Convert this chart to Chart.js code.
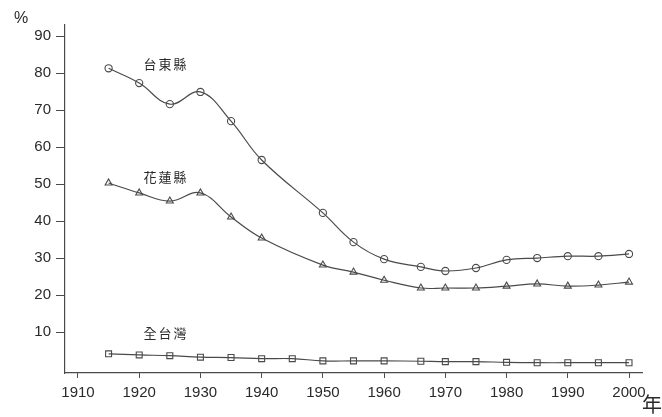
<!DOCTYPE html>
<html>
<head>
<meta charset="utf-8">
<script src="https://cdn.jsdelivr.net/npm/chart.js@4/dist/chart.umd.min.js"></script>
<style>
html,body{margin:0;padding:0;background:#fff;}
#wrap{position:relative;width:662px;height:417px;}
</style>
</head>
<body>
<div id="wrap"><canvas id="c" width="662" height="417"></canvas></div>
<script>
const taitungYears = [1915,1920,1925,1930,1935,1940,1950,1955,1960,1966,1970,1975,1980,1985,1990,1995,2000];
const taitungVals  = [81.3,77.3,71.6,74.9,67.0,56.5,42.2,34.3,29.7,27.6,26.5,27.3,29.5,30.0,30.5,30.5,31.1];
const hualienYears = [1915,1920,1925,1930,1935,1940,1950,1955,1960,1966,1970,1975,1980,1985,1990,1995,2000];
const hualienVals  = [50.3,47.6,45.4,47.6,41.1,35.4,28.1,26.2,24.0,21.9,21.9,21.9,22.4,23.0,22.4,22.7,23.5];
const taiwanYears  = [1915,1920,1925,1930,1935,1940,1945,1950,1955,1960,1966,1970,1975,1980,1985,1990,1995,2000];
const taiwanVals   = [4.1,3.8,3.6,3.2,3.1,2.8,2.8,2.2,2.2,2.2,2.1,2.0,2.0,1.8,1.7,1.7,1.7,1.7];
const xTicks = [1910,1920,1930,1940,1950,1960,1970,1980,1990,2000];
const yTicks = [10,20,30,40,50,60,70,80,90];
const seriesNames = ['台東縣','花蓮縣','全台灣'];
const nameAnchors = [[1924.2,82.4],[1924.2,51.9],[1924.2,9.7]];

const toPts = (xs, ys) => xs.map((x,i)=>({x:x,y:ys[i]}));
const lineColor = '#4a4a4a';

const labelPlugin = {
  id:'labels',
  afterDraw(chart){
    const ctx = chart.ctx;
    const xs = chart.scales.x, ys = chart.scales.y;
    ctx.save();
    ctx.fillStyle = '#2a2a2a';
    ctx.textAlign = 'center';
    ctx.textBaseline = 'middle';
    ctx.font = '13px "Noto Sans CJK TC"';
    seriesNames.forEach((name,i)=>{
      const cx = xs.getPixelForValue(nameAnchors[i][0]);
      const cy = ys.getPixelForValue(nameAnchors[i][1]);
      const chars = Array.from(name);
      const step = 15;
      chars.forEach((ch,j)=>{
        ctx.fillText(ch, cx + (j-(chars.length-1)/2)*step, cy);
      });
    });
    ctx.font = '16px "Liberation Sans"';
    ctx.textAlign = 'left';
    ctx.fillText('%', 14, 19);
    ctx.font = '20px "Noto Sans CJK TC"';
    ctx.fillText('年', 642, 404);
    ctx.restore();
  }
};

new Chart(document.getElementById('c'), {
  type:'line',
  data:{
    datasets:[
      {label:seriesNames[0], data:toPts(taitungYears,taitungVals), pointStyle:'circle', pointRadius:3.6},
      {label:seriesNames[1], data:toPts(hualienYears,hualienVals), pointStyle:'triangle', pointRadius:4},
      {label:seriesNames[2], data:toPts(taiwanYears,taiwanVals), pointStyle:'rect', pointRadius:4.2}
    ].map(d=>Object.assign(d,{
      borderColor:lineColor, borderWidth:1.2, tension:0.4,
      pointBorderColor:lineColor, pointBackgroundColor:'rgba(0,0,0,0)', pointBorderWidth:1.1,
      fill:false
    }))
  },
  options:{
    responsive:false, animation:false,
    layout:{padding:{top:25,right:20,left:0,bottom:0}},
    plugins:{legend:{display:false}, tooltip:{enabled:false}},
    scales:{
      x:{
        type:'linear', min:1907.88, max:2002.12,
        afterBuildTicks(s){ s.ticks = xTicks.map(v=>({value:v})); },
        afterFit(s){ s.height = 44; },
        grid:{display:true, drawOnChartArea:false, drawTicks:true, tickLength:5, color:lineColor},
        border:{display:true, color:lineColor, width:1.2},
        ticks:{color:'#2a2a2a', font:{family:'Liberation Sans', size:15}, padding:6, maxRotation:0, autoSkip:false,
               callback:(v)=>String(v)}
      },
      y:{
        type:'linear', min:-1.08, max:93,
        afterBuildTicks(s){ s.ticks = yTicks.map(v=>({value:v})); },
        afterFit(s){ s.width = 65; },
        grid:{display:true, drawOnChartArea:false, drawTicks:true, tickLength:9, color:lineColor},
        border:{display:true, color:lineColor, width:1.2},
        ticks:{color:'#2a2a2a', font:{family:'Liberation Sans', size:15}, padding:5, autoSkip:false,
               callback:(v)=>String(v)}
      }
    }
  },
  plugins:[labelPlugin]
});
</script>
</body>
</html>
